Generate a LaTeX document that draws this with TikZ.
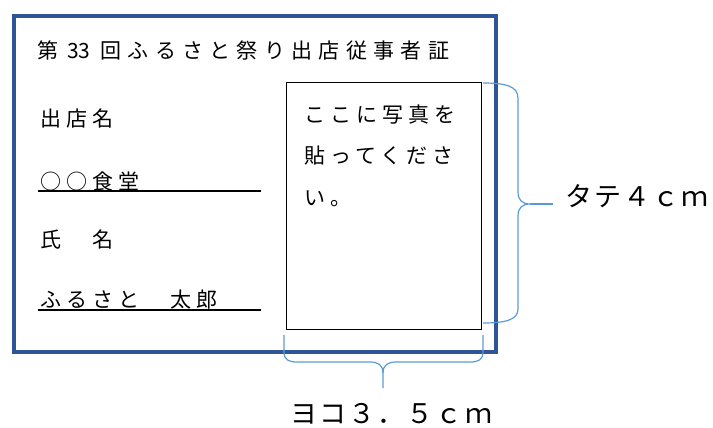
\documentclass[tikz,border=0pt]{standalone}
\usepackage{fontspec}
\newfontfamily\jpfont[LetterSpace=24]{Noto Sans CJK JP}
\newfontfamily\titlefont[LetterSpace=30]{Noto Sans CJK JP}
\newfontfamily\numfont{Noto Sans CJK JP}
\newfontfamily\labfont[LetterSpace=8]{Noto Sans CJK JP}
\usetikzlibrary{positioning}
\definecolor{frameBlue}{RGB}{47,85,151}
\definecolor{braceBlue}{RGB}{91,155,213}
\tikzstyle{card} = [rectangle, draw=frameBlue, line width=4pt, inner sep=0pt, minimum width=482pt, minimum height=336pt, anchor=north west]
\tikzstyle{photo} = [rectangle, draw=black, line width=1.2pt, inner sep=0pt, minimum width=195pt, minimum height=247pt, anchor=north west]
\tikzstyle{txt} = [anchor=base west, inner sep=0pt, font=\jpfont\fontsize{21}{21}\selectfont]
\tikzstyle{lab} = [anchor=base west, inner sep=0pt, font=\labfont\fontsize{27}{27}\selectfont]
\tikzstyle{uline} = [line width=1.5pt]
\tikzstyle{brace} = [draw=braceBlue, line width=1.2pt]

\begin{document}
\begin{tikzpicture}[x=1pt, y=-1pt]
		\useasboundingbox (0,0) rectangle (713,428);
		\node (card) [card] at (12,14) {};
		\node (photo) [photo] at (286,82) {};
		% left side of the card
		\node (title) [txt, font=\titlefont\fontsize{21}{21}\selectfont] at (37,59) {第\hspace{9pt}{\numfont 33}\hspace{10pt}回ふるさと祭り出店従事者証};
		\node (shopLbl) [txt] at (40,127) {出店名};
		\node (shopName) [txt] at (40,189) {○○食堂};
		\node (nameLbl) [txt] at (40,247) {氏　名};
		\node (name) [txt] at (40,307) {ふるさと　太郎};
		\coordinate (ulA) at (38,191);
		\coordinate (ulB) at (261,191);
		\coordinate (ulC) at (38,310);
		\coordinate (ulD) at (261,310);
		\draw [uline] (ulA) -- (ulB);
		\draw [uline] (ulC) -- (ulD);
		% text in the photo box
		\node (note1) [txt] at (304,122) {ここに写真を};
		\node (note2) [txt] at (304,164) {貼ってくださ};
		\node (note3) [txt] at (304,205) {い。};
		% braces
		\coordinate (rTop) at (483,83);
		\coordinate (rBot) at (483,323);
		\coordinate (rTip) at (530,204);
		\coordinate (rEnd) at (553,204);
		\draw [brace] (rTop) .. controls (505,83) and (518,86) .. (518,98) -- (518,192)
			.. controls (518,200) and (522,204) .. (rTip)
			.. controls (522,204) and (518,208) .. (518,216) -- (518,309)
			.. controls (518,320) and (505,323) .. (rBot);
		\draw [brace] (rTip) -- (rEnd);
		\node (tate) [lab] at (565,206) {タテ４ｃｍ};
		\coordinate (bLeft) at (284,335);
		\coordinate (bRight) at (483,335);
		\coordinate (bTip) at (383,388);
		\draw [brace] (bLeft) -- (284,352) .. controls (284,360) and (289,362) .. (297,362) -- (370,362)
			.. controls (378,362) and (383,365) .. (383,373) -- (bTip);
		\draw [brace] (bRight) -- (483,352) .. controls (483,360) and (478,362) .. (470,362) -- (396,362)
			.. controls (388,362) and (383,365) .. (383,373);
		\node (yoko) [lab] at (290,423) {ヨコ３．５ｃｍ};
	\end{tikzpicture}
\end{document}
